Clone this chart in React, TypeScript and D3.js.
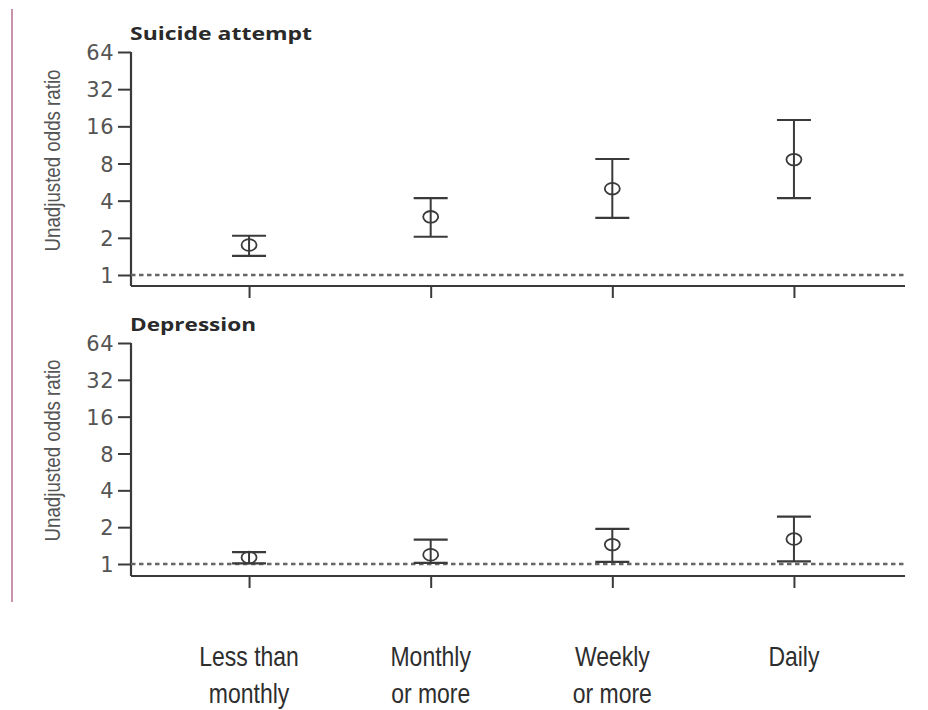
import React, { useRef, useEffect } from "react";
import * as d3 from "d3";

// frequency categories (x axis)
const categories = ["Less than monthly", "Monthly or more", "Weekly or more", "Daily"];
const categoryLines = [["Less than", "monthly"], ["Monthly", "or more"], ["Weekly", "or more"], ["Daily"]];

// suicide attempt: unadjusted odds ratio and 95% CI
const suicideOR = [1.75, 2.96, 5.0, 8.6];
const suicideLower = [1.43, 2.04, 2.9, 4.2];
const suicideUpper = [2.08, 4.2, 8.7, 18];

// depression: unadjusted odds ratio and 95% CI
const depressionOR = [1.13, 1.19, 1.44, 1.6];
const depressionLower = [1.01, 1.02, 1.04, 1.05];
const depressionUpper = [1.25, 1.58, 1.94, 2.44];

const yTicks = [1, 2, 4, 8, 16, 32, 64];

const W = 928;
const H = 710;

interface Panel {
  title: string;
  titleWidth: number;
  or: number[];
  lower: number[];
  upper: number[];
  top: number; // y of 64
  bottom: number; // y of 1
  axisY: number; // x axis line
}

const panels: Panel[] = [
  { title: "Suicide attempt", titleWidth: 182, or: suicideOR, lower: suicideLower, upper: suicideUpper, top: 52, bottom: 275, axisY: 286 },
  { title: "Depression", titleWidth: 126, or: depressionOR, lower: depressionLower, upper: depressionUpper, top: 343, bottom: 564, axisY: 576 },
];

const App: React.FC = () => {
  const svgRef = useRef<SVGSVGElement>(null);

  useEffect(() => {
    const svg = d3.select(svgRef.current);
    svg.selectAll("*").remove();

    const left = 131;
    const right = 905;
    const ink = "#3a3a3a";

    const x = d3.scalePoint<string>().domain(categories).range([left, 912]).padding(0.65);

    // pink rule on the left
    svg
      .append("line")
      .attr("x1", 12)
      .attr("x2", 12)
      .attr("y1", 9)
      .attr("y2", 602)
      .attr("stroke", "#c994a9")
      .attr("stroke-width", 2);

    panels.forEach((p) => {
      const y = d3.scaleLog().base(2).domain([1, 64]).range([p.bottom, p.top]);
      const g = svg.append("g");

      // title
      g.append("text")
        .attr("x", 130)
        .attr("y", p.top - 12)
        .attr("font-family", "'Open Sans', sans-serif")
        .attr("font-weight", 700)
        .attr("font-size", 18)
        .attr("fill", "#2a2a2a")
        .attr("textLength", p.titleWidth)
        .attr("lengthAdjust", "spacingAndGlyphs")
        .text(p.title);

      // y label
      g.append("text")
        .attr("transform", `translate(60,${(p.top + p.bottom) / 2 - 3}) rotate(-90)`)
        .attr("text-anchor", "middle")
        .attr("font-family", "'Liberation Sans', sans-serif")
        .attr("font-size", 22)
        .attr("fill", "#555")
        .attr("textLength", 182)
        .attr("lengthAdjust", "spacingAndGlyphs")
        .text("Unadjusted odds ratio");

      // y axis
      const yAxis = d3
        .axisLeft(y)
        .tickValues(yTicks)
        .tickFormat((d) => String(d))
        .tickSize(13)
        .tickPadding(4);
      const ya = g.append("g").attr("transform", `translate(${left},0)`).call(yAxis);
      ya.select(".domain").remove();
      ya.attr("font-size", null).attr("font-family", null);
      ya.selectAll(".tick line").attr("stroke", ink).attr("stroke-width", 2);
      ya.selectAll(".tick text")
        .attr("font-family", "'DejaVu Sans', sans-serif")
        .attr("font-size", 21)
        .attr("letter-spacing", 0.5)
        .attr("dy", "0.36em")
        .attr("fill", "#555");

      // axis lines
      g.append("line")
        .attr("x1", left)
        .attr("x2", left)
        .attr("y1", y(64))
        .attr("y2", p.axisY)
        .attr("stroke", ink)
        .attr("stroke-width", 2.2);

      // x axis
      const xAxis = d3.axisBottom(x).tickSize(12).tickFormat(() => "");
      const xa = g.append("g").attr("transform", `translate(0,${p.axisY})`).call(xAxis);
      xa.select(".domain").remove();
      xa.selectAll(".tick line").attr("stroke", ink).attr("stroke-width", 2);
      g.append("line")
        .attr("x1", left)
        .attr("x2", right)
        .attr("y1", p.axisY)
        .attr("y2", p.axisY)
        .attr("stroke", ink)
        .attr("stroke-width", 2.2);

      // reference line at OR = 1
      g.append("line")
        .attr("x1", left)
        .attr("x2", right)
        .attr("y1", y(1))
        .attr("y2", y(1))
        .attr("stroke", "#666")
        .attr("stroke-width", 2.5)
        .attr("stroke-dasharray", "4.5,3.5");

      // error bars
      const bars = g
        .selectAll(".err")
        .data(categories)
        .enter()
        .append("g")
        .attr("class", "err");
      const capW = 17;
      bars
        .append("line")
        .attr("x1", (d) => x(d)!)
        .attr("x2", (d) => x(d)!)
        .attr("y1", (d, i) => y(p.lower[i]))
        .attr("y2", (d, i) => y(p.upper[i]))
        .attr("stroke", ink)
        .attr("stroke-width", 2);
      bars
        .append("line")
        .attr("x1", (d) => x(d)! - capW)
        .attr("x2", (d) => x(d)! + capW)
        .attr("y1", (d, i) => y(p.upper[i]))
        .attr("y2", (d, i) => y(p.upper[i]))
        .attr("stroke", ink)
        .attr("stroke-width", 2.2);
      bars
        .append("line")
        .attr("x1", (d) => x(d)! - capW)
        .attr("x2", (d) => x(d)! + capW)
        .attr("y1", (d, i) => y(p.lower[i]))
        .attr("y2", (d, i) => y(p.lower[i]))
        .attr("stroke", ink)
        .attr("stroke-width", 2.2);
      bars
        .append("ellipse")
        .attr("cx", (d) => x(d)!)
        .attr("cy", (d, i) => y(p.or[i]))
        .attr("rx", 7.5)
        .attr("ry", 5.8)
        .attr("fill", "none")
        .attr("stroke", ink)
        .attr("stroke-width", 1.8);
    });

    // category labels, squeezed to look condensed
    const labels = svg
      .selectAll(".cat")
      .data(categories)
      .enter()
      .append("text")
      .attr("class", "cat")
      .attr("text-anchor", "middle")
      .attr("font-family", "'Liberation Sans', sans-serif")
      .attr("font-size", 28)
      .attr("fill", "#2e2e2e");
    labels.each(function (d, i) {
      const t = d3.select(this);
      categoryLines[i].forEach((line, j) => {
        const ts = t
          .append("tspan")
          .attr("x", x(d)!)
          .attr("y", 666 + j * 37)
          .text(line);
        const len = (ts.node() as SVGTSpanElement).getComputedTextLength();
        ts.attr("textLength", len * 0.82).attr("lengthAdjust", "spacingAndGlyphs");
      });
    });
  }, []);

  return (
    <svg
      ref={svgRef}
      width={W}
      height={H}
      style={{ position: "absolute", left: 0, top: 0, background: "#fff" }}
    />
  );
};

export default App;
